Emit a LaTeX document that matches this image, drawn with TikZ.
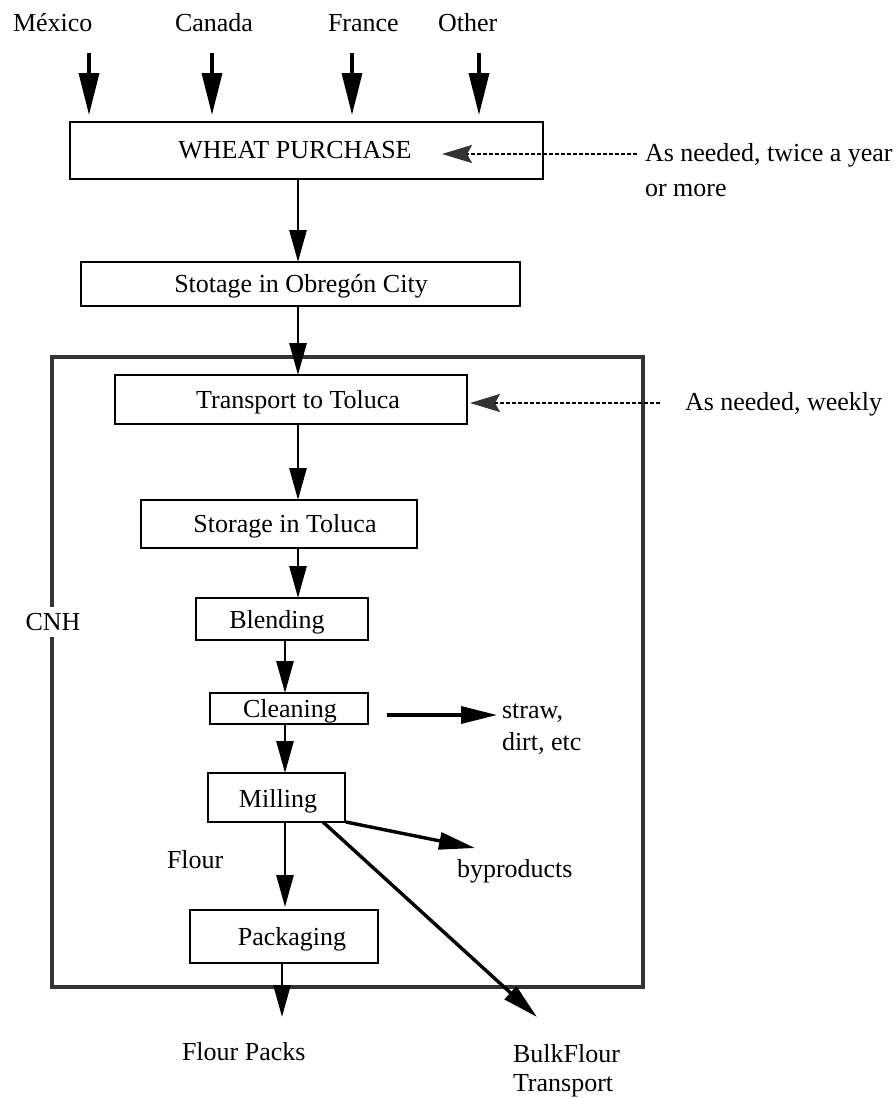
\documentclass[tikz,border=0pt]{standalone}
\usepackage{fontspec}
\setmainfont{Liberation Serif}
\usetikzlibrary{arrows.meta}
\begin{document}
\begin{tikzpicture}[x=1pt,y=-1pt,
  txt/.style={font=\fontsize{26}{30}\selectfont, inner sep=0pt, outer sep=0pt},
  lbl/.style={txt, anchor=base west},
  ctr/.style={txt, anchor=base},
  bx/.style={draw, line width=2.8pt, inner sep=0pt, outer sep=0pt},
  topar/.style={line width=3.2pt, -{Triangle[length=42pt,width=20pt]}},
  ar/.style={line width=2.8pt, -{Triangle[length=32pt,width=17pt]}},
  sidear/.style={line width=3.4pt, -{Triangle[length=36pt,width=17pt]}},
  dar/.style={line width=2pt, dash pattern=on 4pt off 2pt, -{Stealth[length=30pt,width=18pt,inset=5pt,color=black!80]}},
]
\useasboundingbox (0,0) rectangle (896,1098);

% CNH container
\node[draw=black!80, line width=4.5pt, minimum width=591pt, minimum height=630pt, inner sep=0pt] (cnhbox) at (347.5,672) {};
\node[txt, fill=white, inner xsep=1pt, inner ysep=6pt] (cnh) at (53,622) {CNH};

% boxes
\node[bx, minimum width=473pt, minimum height=57pt] (wheat) at (306.5,150.5) {};
\node[ctr] (wheatT) at (295,158) {WHEAT PURCHASE};
\node[bx, minimum width=439pt, minimum height=44pt] (obregon) at (300.5,284) {};
\node[ctr] (obregonT) at (301,292) {Stotage in Obregón City};
\node[bx, minimum width=352pt, minimum height=49pt] (transport) at (291,399.5) {};
\node[ctr] (transportT) at (298,408) {Transport to Toluca};
\node[bx, minimum width=276pt, minimum height=48pt] (toluca) at (279,524) {};
\node[ctr] (tolucaT) at (285,532) {Storage in Toluca};
\node[bx, minimum width=172pt, minimum height=42pt] (blending) at (282,619) {};
\node[ctr] (blendingT) at (277,628) {Blending};
\node[bx, minimum width=158pt, minimum height=31pt] (cleaning) at (289,708.5) {};
\node[ctr] (cleaningT) at (290,717) {Cleaning};
\node[bx, minimum width=137pt, minimum height=49pt] (milling) at (276.5,797.5) {};
\node[ctr] (millingT) at (278,807) {Milling};
\node[bx, minimum width=188pt, minimum height=53pt] (packaging) at (284,936.5) {};
\node[ctr] (packagingT) at (292,945) {Packaging};

% labels
\node[lbl] (mexico) at (13,31) {México};
\node[lbl] (canada) at (175,31) {Canada};
\node[lbl] (france) at (328,31) {France};
\node[lbl] (other) at (438,31) {Other};
\node[lbl] (need1) at (645,161) {As needed, twice a year};
\node[lbl] (need1b) at (645,196) {or more};
\node[lbl] (need2) at (685,410) {As needed, weekly};
\node[lbl] (straw) at (502,718) {straw,};
\node[lbl] (dirt) at (502,750) {dirt, etc};
\node[lbl] (flour) at (167,868) {Flour};
\node[lbl] (byprod) at (457,877) {byproducts};
\node[lbl] (packs) at (182,1060) {Flour Packs};
\node[lbl] (bulk) at (513,1062) {BulkFlour};
\node[lbl] (bulkb) at (513,1091) {Transport};

% arrow columns / free ends
\coordinate (mA) at (89,53);
\coordinate (cA) at (212,53);
\coordinate (fA) at (352,53);
\coordinate (oA) at (479,53);
\coordinate (c298) at (298,0);
\coordinate (c285) at (285,0);
\coordinate (c282) at (282,0);
\coordinate (strawS) at (387,715);
\coordinate (strawE) at (497,715);
\coordinate (bpE) at (475,848);
\coordinate (bulkE) at (537,1017);
\coordinate (packsE) at (282,1017);
\coordinate (d1) at (637,154);
\coordinate (d1t) at (442,154);
\coordinate (d2) at (660,403);
\coordinate (d2t) at (470,403);

% top arrows
\draw[topar, shorten >=7pt] (mA) -- (mA |- wheat.north);
\draw[topar, shorten >=7pt] (cA) -- (cA |- wheat.north);
\draw[topar, shorten >=7pt] (fA) -- (fA |- wheat.north);
\draw[topar, shorten >=7pt] (oA) -- (oA |- wheat.north);

% main flow
\draw[ar] (wheat.south -| c298) -- (obregon.north -| c298);
\draw[ar] (obregon.south -| c298) -- (transport.north -| c298);
\draw[ar] (transport.south -| c298) -- (toluca.north -| c298);
\draw[ar] (toluca.south -| c298) -- (blending.north -| c298);
\draw[ar] (blending.south -| c285) -- (cleaning.north -| c285);
\draw[ar] (cleaning.south -| c285) -- (milling.north -| c285);
\draw[ar, shorten >=3pt] (milling.south -| c285) -- (packaging.north -| c285);
\draw[ar] (packaging.south -| c282) -- (packsE);

% side outputs
\draw[sidear] (strawS) -- (strawE);
\draw[sidear] ([xshift=1pt]milling.south east) -- (bpE);
\draw[sidear] ([xshift=-22pt]milling.south east) -- (bulkE);

% dashed schedule arrows
\draw[dar] (d1) -- (d1t);
\draw[dar] (d2) -- (d2t);
\end{tikzpicture}
\end{document}
